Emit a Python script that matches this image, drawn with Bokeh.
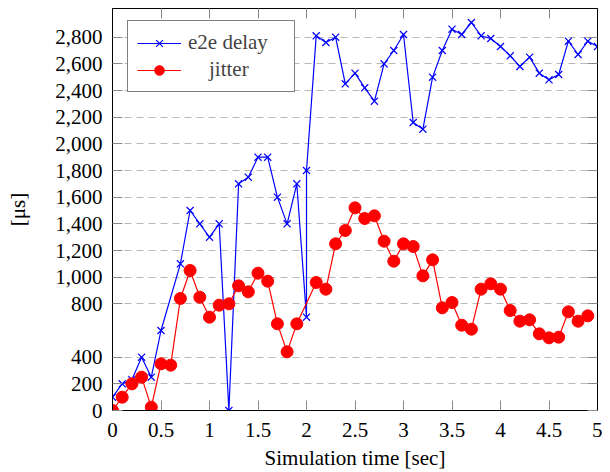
from bokeh.plotting import figure
from bokeh.models import Range1d, FixedTicker, LinearAxis, Legend, LegendItem
from bokeh.embed import file_html
from bokeh.resources import INLINE

# ---- data ----
delay_t = [0.0, 0.1, 0.2, 0.3, 0.4, 0.5, 0.7, 0.8, 0.9, 1.0,
           1.1, 1.2, 1.3, 1.4, 1.5, 1.6, 1.7, 1.8, 1.9, 2.0, 2.0,
           2.1, 2.2, 2.3, 2.4, 2.5, 2.6, 2.7, 2.8, 2.9, 3.0,
           3.1, 3.2, 3.3, 3.4, 3.5, 3.6, 3.7, 3.8, 3.9, 4.0,
           4.1, 4.2, 4.3, 4.4, 4.5, 4.6, 4.7, 4.8, 4.9, 5.0]
delay_us = [100, 200, 230, 400, 250, 600, 1100, 1500, 1400, 1300,
            1400, 0, 1700, 1750, 1900, 1900, 1600, 1400, 1700, 700, 1800,
            2810, 2760, 2800, 2450, 2530, 2420, 2320, 2600, 2700, 2820,
            2160, 2110, 2500, 2700, 2860, 2820, 2910, 2810, 2790, 2730,
            2660, 2580, 2650, 2530, 2480, 2520, 2770, 2670, 2770, 2730]

jitter_t = [0.0, 0.1, 0.2, 0.3, 0.4, 0.5, 0.6, 0.7, 0.8, 0.9,
            1.0, 1.1, 1.2, 1.3, 1.4, 1.5, 1.6, 1.7, 1.8, 1.9,
            2.1, 2.2, 2.3, 2.4, 2.5, 2.6, 2.7, 2.8, 2.9,
            3.0, 3.1, 3.2, 3.3, 3.4, 3.5, 3.6, 3.7, 3.8, 3.9,
            4.0, 4.1, 4.2, 4.3, 4.4, 4.5, 4.6, 4.7, 4.8, 4.9]
jitter_us = [0, 100, 200, 250, 25, 350, 340, 840, 1050, 850,
             700, 790, 800, 935, 890, 1030, 970, 650, 440, 650,
             960, 910, 1250, 1350, 1520, 1440, 1460, 1270, 1120,
             1250, 1230, 1010, 1130, 770, 810, 640, 610, 910, 950,
             910, 750, 670, 680, 575, 545, 550, 740, 670, 710]

x_ticks = [0, 0.5, 1, 1.5, 2, 2.5, 3, 3.5, 4, 4.5, 5]
x_tick_labels = ["0", "0.5", "1", "1.5", "2", "2.5", "3", "3.5", "4", "4.5", "5"]
y_ticks = [0, 200, 400, 800, 1000, 1200, 1400, 1600, 1800, 2000, 2200, 2400, 2600, 2800]
y_tick_labels = ["0", "200", "400", "800", "1,000", "1,200", "1,400", "1,600",
                 "1,800", "2,000", "2,200", "2,400", "2,600", "2,800"]

FONT = "serif"
FS = "21px"

p = figure(width=602, height=472, output_backend="svg", toolbar_location=None,
           x_range=Range1d(0, 5), y_range=Range1d(0, 3015),
           min_border_left=112, min_border_right=5, min_border_top=8, min_border_bottom=62,
           x_axis_label="Simulation time [sec]", y_axis_label="[μs]")

p.outline_line_color = "black"
p.outline_line_width = 1
p.background_fill_color = "white"
p.border_fill_color = "white"

# axes
for ax in [p.xaxis[0], p.yaxis[0]]:
    ax.major_tick_in = 10
    ax.major_tick_out = 0
    ax.minor_tick_line_color = None
    ax.major_tick_line_color = "#8a8a8a"
    ax.axis_line_color = "black"
    ax.major_label_text_font = FONT
    ax.major_label_text_font_size = FS
    ax.major_label_text_font_style = "normal"
    ax.major_label_text_color = "black"
    ax.axis_label_text_font = FONT
    ax.axis_label_text_font_size = FS
    ax.axis_label_text_font_style = "normal"
    ax.axis_label_text_color = "black"

p.xaxis[0].ticker = FixedTicker(ticks=x_ticks)
p.xaxis[0].major_label_overrides = dict(zip(x_ticks, x_tick_labels))
p.xaxis[0].major_label_standoff = 12
p.xaxis[0].axis_label_standoff = 6
p.yaxis[0].ticker = FixedTicker(ticks=y_ticks)
p.yaxis[0].major_label_overrides = dict(zip(y_ticks, y_tick_labels))
p.yaxis[0].major_label_standoff = 10
p.yaxis[0].axis_label_standoff = 22

top = LinearAxis(ticker=FixedTicker(ticks=x_ticks), major_tick_in=10, major_tick_out=0,
                 minor_tick_line_color=None, major_tick_line_color="#8a8a8a",
                 major_label_text_font_size="1px", major_label_text_color=None,
                 major_label_standoff=0, axis_line_color="black")
right = LinearAxis(ticker=FixedTicker(ticks=y_ticks), major_tick_in=10, major_tick_out=0,
                   minor_tick_line_color=None, major_tick_line_color="#8a8a8a",
                   major_label_text_font_size="1px", major_label_text_color=None,
                   major_label_standoff=0, axis_line_color="black")
p.add_layout(top, "above")
p.add_layout(right, "right")

p.xgrid.grid_line_color = None
p.ygrid.ticker = FixedTicker(ticks=y_ticks)
p.ygrid.grid_line_color = "#b8b8b8"
p.ygrid.grid_line_dash = "7 5"
p.ygrid.grid_line_width = 1

# series
l1 = p.line(delay_t, delay_us, line_color="#0000ff", line_width=1.2)
m1 = p.scatter(delay_t, delay_us, marker="x", size=10, line_color="#0000ff", line_width=1.2)
l2 = p.line(jitter_t, jitter_us, line_color="#ff0000", line_width=1.2)
m2 = p.scatter(jitter_t, jitter_us, marker="circle", size=12, fill_color="#ff0000",
               line_color="#ff0000")

legend = Legend(items=[LegendItem(label="e2e delay", renderers=[l1, m1]),
                       LegendItem(label="\u00a0\u00a0\u00a0\u00a0jitter", renderers=[l2, m2])],
                location=(15, 318), padding=9, spacing=2,
                label_height=24, label_width=97, glyph_height=24, glyph_width=44,
                label_standoff=7,
                label_text_font=FONT, label_text_font_size=FS,
                label_text_font_style="normal",
                border_line_color="black", border_line_width=1,
                background_fill_color="white", background_fill_alpha=1)
p.add_layout(legend)

open("out.html", "w").write(file_html(p, INLINE))
